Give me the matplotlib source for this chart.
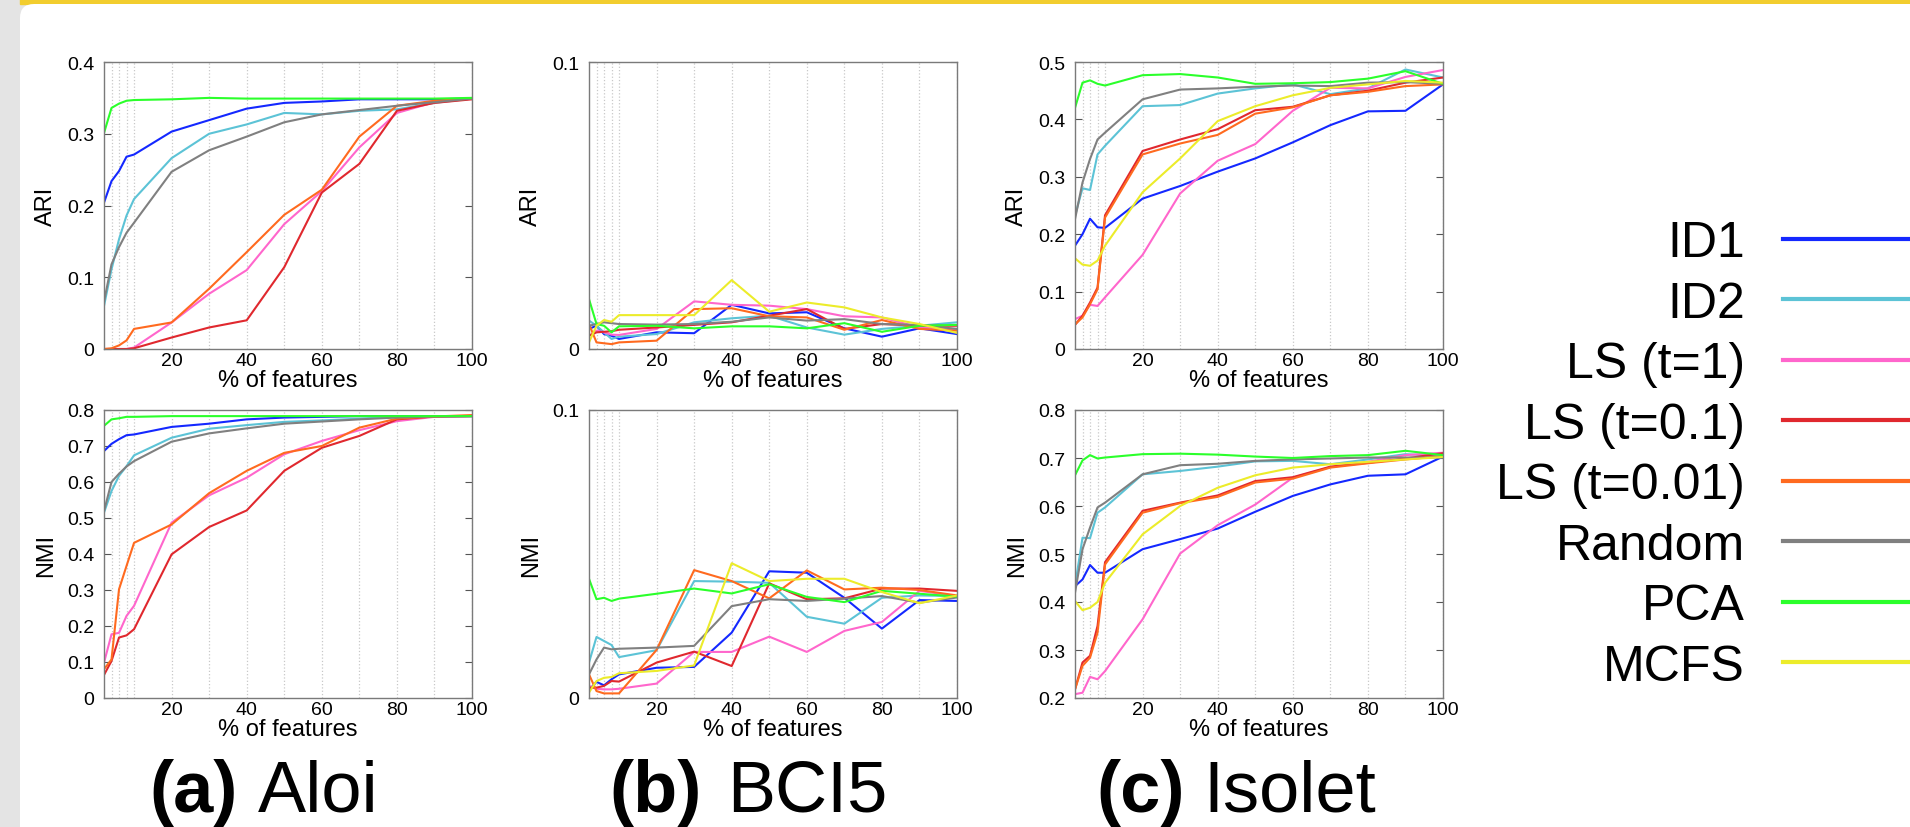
import matplotlib.pyplot as plt
from matplotlib.patches import Rectangle, FancyBboxPatch
from matplotlib.ticker import FuncFormatter

plt.rcParams['font.family'] = ['Liberation Sans', 'DejaVu Sans']

# ---------------- data ----------------
pct = [2, 4, 6, 8, 10, 20, 30, 40, 50, 60, 70, 80, 90, 100]

methods = ['ID1', 'ID2', 'LS (t=1)', 'LS (t=0.1)', 'LS (t=0.01)', 'Random', 'PCA', 'MCFS']
colors = ['#1428ff', '#5cc3d6', '#ff66cc', '#e0282e', '#ff6a1f', '#808080', '#2bff2b', '#ecec2a']

aloi_ari = {
    'ID1':         [0.204, 0.234, 0.248, 0.268, 0.271, 0.303, 0.319, 0.335, 0.343, 0.345, 0.348, 0.348, 0.348, 0.349],
    'ID2':         [0.060, 0.111, 0.153, 0.186, 0.209, 0.266, 0.300, 0.313, 0.329, 0.327, 0.332, 0.334, 0.343, 0.349],
    'LS (t=1)':    [0.0, 0.0, 0.0, 0.0, 0.002, 0.037, 0.077, 0.110, 0.174, 0.220, 0.281, 0.329, 0.344, 0.349],
    'LS (t=0.1)':  [0.0, 0.0, 0.0, 0.0, 0.001, 0.016, 0.030, 0.040, 0.114, 0.218, 0.258, 0.332, 0.343, 0.348],
    'LS (t=0.01)': [0.0, 0.001, 0.005, 0.012, 0.028, 0.037, 0.084, 0.135, 0.187, 0.222, 0.296, 0.339, 0.346, 0.349],
    'Random':      [0.066, 0.118, 0.142, 0.162, 0.176, 0.247, 0.277, 0.296, 0.316, 0.327, 0.333, 0.339, 0.344, 0.349],
    'PCA':         [0.301, 0.336, 0.342, 0.346, 0.347, 0.348, 0.350, 0.349, 0.349, 0.349, 0.349, 0.349, 0.349, 0.350],
}
aloi_nmi = {
    'ID1':         [0.686, 0.706, 0.719, 0.730, 0.732, 0.753, 0.762, 0.774, 0.779, 0.781, 0.783, 0.783, 0.783, 0.783],
    'ID2':         [0.515, 0.575, 0.617, 0.644, 0.674, 0.723, 0.748, 0.758, 0.767, 0.771, 0.776, 0.781, 0.782, 0.783],
    'LS (t=1)':    [0.098, 0.177, 0.181, 0.228, 0.256, 0.487, 0.563, 0.612, 0.677, 0.714, 0.744, 0.769, 0.781, 0.783],
    'LS (t=0.1)':  [0.064, 0.103, 0.168, 0.174, 0.191, 0.399, 0.475, 0.521, 0.631, 0.695, 0.728, 0.774, 0.782, 0.783],
    'LS (t=0.01)': [0.080, 0.107, 0.302, 0.367, 0.431, 0.482, 0.569, 0.631, 0.681, 0.700, 0.751, 0.776, 0.782, 0.786],
    'Random':      [0.519, 0.600, 0.623, 0.643, 0.658, 0.712, 0.735, 0.749, 0.762, 0.768, 0.774, 0.779, 0.782, 0.783],
    'PCA':         [0.756, 0.774, 0.777, 0.781, 0.781, 0.783, 0.783, 0.783, 0.783, 0.783, 0.783, 0.783, 0.783, 0.783],
}
bci5_ari = {
    'ID1':         [0.0070, 0.0081, 0.0052, 0.0046, 0.0035, 0.0058, 0.0055, 0.0154, 0.0124, 0.0128, 0.0072, 0.0043, 0.0072, 0.0052],
    'ID2':         [0.0099, 0.0081, 0.0058, 0.0035, 0.0043, 0.0052, 0.0093, 0.0107, 0.0116, 0.0075, 0.0050, 0.0070, 0.0081, 0.0093],
    'LS (t=1)':    [0.0046, 0.0064, 0.0058, 0.0050, 0.0049, 0.0070, 0.0166, 0.0154, 0.0151, 0.0139, 0.0114, 0.0110, 0.0075, 0.0070],
    'LS (t=0.1)':  [0.0046, 0.0058, 0.0060, 0.0062, 0.0067, 0.0075, 0.0084, 0.0093, 0.0116, 0.0139, 0.0070, 0.0087, 0.0081, 0.0081],
    'LS (t=0.01)': [0.0087, 0.0023, 0.0020, 0.0017, 0.0023, 0.0029, 0.0139, 0.0142, 0.0114, 0.0110, 0.0067, 0.0101, 0.0070, 0.0064],
    'Random':      [0.0081, 0.0087, 0.0093, 0.0090, 0.0087, 0.0085, 0.0087, 0.0095, 0.0110, 0.0099, 0.0104, 0.0087, 0.0084, 0.0070],
    'PCA':         [0.0174, 0.0087, 0.0081, 0.0058, 0.0079, 0.0081, 0.0072, 0.0079, 0.0079, 0.0072, 0.0090, 0.0060, 0.0081, 0.0084],
    'MCFS':        [0.0023, 0.0081, 0.0101, 0.0095, 0.0118, 0.0118, 0.0118, 0.0240, 0.0130, 0.0162, 0.0145, 0.0110, 0.0087, 0.0056],
}
bci5_nmi = {
    'ID1':         [0.0028, 0.0056, 0.0044, 0.0065, 0.0082, 0.0105, 0.0108, 0.0227, 0.0440, 0.0435, 0.0348, 0.0241, 0.0340, 0.0337],
    'ID2':         [0.0123, 0.0212, 0.0198, 0.0184, 0.0142, 0.0166, 0.0406, 0.0404, 0.0400, 0.0282, 0.0258, 0.0348, 0.0356, 0.0354],
    'LS (t=1)':    [0.0042, 0.0032, 0.0030, 0.0030, 0.0032, 0.0050, 0.0160, 0.0160, 0.0213, 0.0160, 0.0233, 0.0264, 0.0372, 0.0354],
    'LS (t=0.1)':  [0.0036, 0.0036, 0.0042, 0.0059, 0.0057, 0.0123, 0.0161, 0.0111, 0.0398, 0.0343, 0.0346, 0.0380, 0.0380, 0.0372],
    'LS (t=0.01)': [0.0082, 0.0024, 0.0016, 0.0016, 0.0016, 0.0167, 0.0444, 0.0406, 0.0346, 0.0443, 0.0377, 0.0383, 0.0375, 0.0356],
    'Random':      [0.0082, 0.0134, 0.0175, 0.0169, 0.0171, 0.0175, 0.0181, 0.0319, 0.0343, 0.0337, 0.0345, 0.0354, 0.0331, 0.0349],
    'PCA':         [0.0414, 0.0343, 0.0348, 0.0337, 0.0345, 0.0362, 0.0380, 0.0363, 0.0395, 0.0351, 0.0333, 0.0372, 0.0362, 0.0352],
    'MCFS':        [0.0019, 0.0059, 0.0070, 0.0073, 0.0086, 0.0094, 0.0113, 0.0468, 0.0406, 0.0414, 0.0414, 0.0368, 0.0329, 0.0356],
}
isolet_ari = {
    'ID1':         [0.180, 0.200, 0.227, 0.212, 0.211, 0.262, 0.284, 0.309, 0.332, 0.360, 0.390, 0.414, 0.415, 0.461],
    'ID2':         [0.232, 0.280, 0.277, 0.339, 0.354, 0.423, 0.425, 0.445, 0.454, 0.461, 0.444, 0.454, 0.487, 0.473],
    'LS (t=1)':    [0.052, 0.058, 0.077, 0.075, 0.090, 0.164, 0.271, 0.328, 0.357, 0.415, 0.455, 0.454, 0.474, 0.486],
    'LS (t=0.1)':  [0.042, 0.058, 0.081, 0.107, 0.233, 0.345, 0.365, 0.383, 0.416, 0.422, 0.442, 0.450, 0.464, 0.473],
    'LS (t=0.01)': [0.043, 0.055, 0.078, 0.104, 0.229, 0.339, 0.358, 0.373, 0.410, 0.421, 0.442, 0.448, 0.458, 0.461],
    'Random':      [0.226, 0.290, 0.331, 0.365, 0.377, 0.435, 0.452, 0.454, 0.457, 0.459, 0.458, 0.464, 0.465, 0.462],
    'PCA':         [0.420, 0.464, 0.468, 0.462, 0.459, 0.477, 0.479, 0.473, 0.462, 0.463, 0.465, 0.471, 0.484, 0.462],
    'MCFS':        [0.158, 0.147, 0.145, 0.154, 0.180, 0.273, 0.332, 0.397, 0.423, 0.442, 0.455, 0.461, 0.467, 0.464],
}
isolet_nmi = {
    'ID1':         [0.433, 0.447, 0.477, 0.461, 0.461, 0.510, 0.531, 0.553, 0.588, 0.621, 0.645, 0.663, 0.666, 0.703],
    'ID2':         [0.433, 0.534, 0.533, 0.586, 0.597, 0.666, 0.673, 0.682, 0.693, 0.694, 0.687, 0.697, 0.708, 0.704],
    'LS (t=1)':    [0.208, 0.211, 0.244, 0.239, 0.256, 0.364, 0.501, 0.560, 0.603, 0.659, 0.681, 0.692, 0.706, 0.711],
    'LS (t=0.1)':  [0.218, 0.274, 0.288, 0.350, 0.483, 0.590, 0.607, 0.622, 0.652, 0.660, 0.682, 0.690, 0.699, 0.710],
    'LS (t=0.01)': [0.218, 0.267, 0.284, 0.336, 0.478, 0.586, 0.606, 0.619, 0.649, 0.657, 0.680, 0.689, 0.697, 0.704],
    'Random':      [0.419, 0.510, 0.555, 0.597, 0.607, 0.666, 0.685, 0.688, 0.694, 0.697, 0.699, 0.701, 0.701, 0.701],
    'PCA':         [0.664, 0.695, 0.706, 0.699, 0.701, 0.708, 0.709, 0.707, 0.703, 0.700, 0.704, 0.706, 0.715, 0.706],
    'MCFS':        [0.402, 0.383, 0.388, 0.400, 0.440, 0.541, 0.600, 0.638, 0.664, 0.680, 0.687, 0.692, 0.697, 0.702],
}

# ---------------- figure ----------------
W, H = 1910, 828
fig = plt.figure(figsize=(W / 100, H / 100), dpi=100)

# page background: grey strip, yellow top bar, white card
fig.add_artist(Rectangle((0, 0), W, H, transform=None, color='#e4e4e4', zorder=-10))
fig.add_artist(Rectangle((20, H - 5), W, 5, transform=None, color='#f2cd2e', zorder=-9))
fig.add_artist(FancyBboxPatch((20, -30), W + 40, H - 5 + 30, transform=None,
                              boxstyle='round,pad=0,rounding_size=14',
                              facecolor='white', edgecolor='none', zorder=-8))

col_left = [104, 589, 1075]
axw = 368
rows = [(63, 350), (411, 699)]

panels = [
    (0, 0, aloi_ari, 'ARI', (0, 0.4), [0, 0.1, 0.2, 0.3, 0.4]),
    (0, 1, aloi_nmi, 'NMI', (0, 0.8), [0, 0.1, 0.2, 0.3, 0.4, 0.5, 0.6, 0.7, 0.8]),
    (1, 0, bci5_ari, 'ARI', (0, 0.1), [0, 0.1]),
    (1, 1, bci5_nmi, 'NMI', (0, 0.1), [0, 0.1]),
    (2, 0, isolet_ari, 'ARI', (0, 0.5), [0, 0.1, 0.2, 0.3, 0.4, 0.5]),
    (2, 1, isolet_nmi, 'NMI', (0.2, 0.8), [0.2, 0.3, 0.4, 0.5, 0.6, 0.7, 0.8]),
]

handles = None
for col, row, data, ylab, ylim, yticks in panels:
    top, bot = rows[row]
    ax = fig.add_axes([col_left[col] / W, (H - bot) / H, axw / W, (bot - top) / H])
    hs = []
    for m, c in zip(methods, colors):
        if m in data:
            ln, = ax.plot(pct, data[m], color=c, lw=1.5)
            hs.append(ln)
    if len(hs) == len(methods):
        handles = hs
    ax.set_xlim(2, 100)
    ax.set_ylim(*ylim)
    ax.set_xticks([20, 40, 60, 80, 100])
    ax.set_xticks([4, 6, 8, 10, 30, 50, 70, 90], minor=True)
    ax.set_yticks(yticks)
    ax.yaxis.set_major_formatter(FuncFormatter(lambda v, p: '%g' % round(v, 2)))
    ax.grid(True, axis='x', which='both', color='#c8c8c8', ls=':', lw=0.9)
    ax.tick_params(axis='x', which='both', length=0, pad=2, labelsize=14)
    ax.tick_params(axis='y', direction='in', length=5, color='#555555',
                   left=True, right=True, pad=7, labelsize=14)
    for s in ax.spines.values():
        s.set_color('#7a7a7a')
        s.set_linewidth(1.0)
    ax.set_xlabel('% of features', fontsize=17, labelpad=0)
    ax.set_ylabel(ylab, fontsize=17)
    ax.yaxis.set_label_coords(-47 / axw, 0.5)

leg = fig.legend(handles, methods, loc='center right', bbox_to_anchor=(1.0, (H - 456) / H),
                 markerfirst=False, frameon=False, fontsize=36, handlelength=2.55,
                 handletextpad=0.75, labelspacing=0.29, borderpad=0, borderaxespad=0)
for lh in leg.get_lines():
    lh.set_linewidth(3)

# captions
caps = [(149, 258, '(a)', 'Aloi'), (609, 727, '(b)', 'BCI5'), (1096, 1203, '(c)', 'Isolet')]
for x1, x2, tag, name in caps:
    fig.text(x1 / W, 16 / H, tag, fontsize=52, fontweight='bold', ha='left', va='baseline')
    fig.text(x2 / W, 16 / H, name, fontsize=52, ha='left', va='baseline')

fig.savefig('out.png', dpi=100)
